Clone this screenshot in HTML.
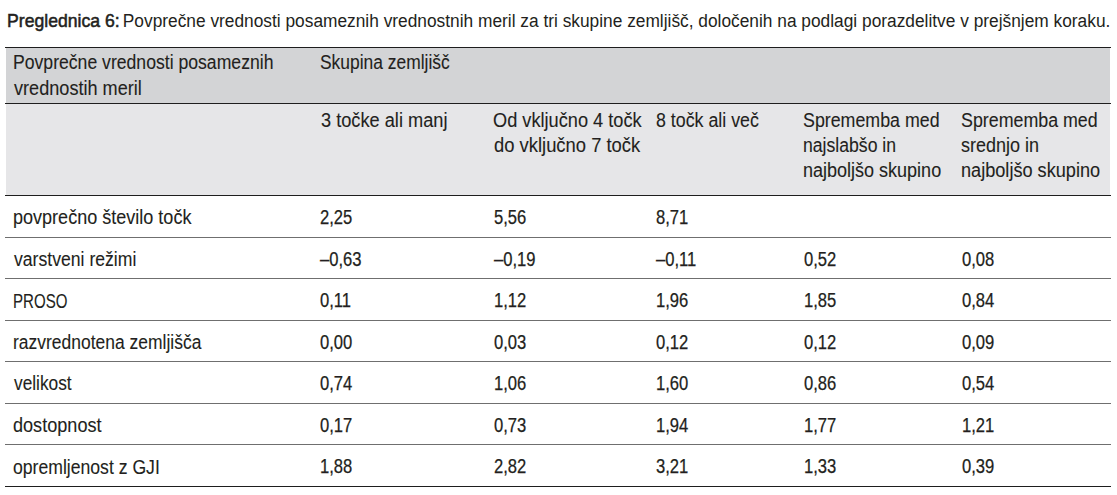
<!DOCTYPE html>
<html><head><meta charset="utf-8"><style>
html,body{margin:0;padding:0;background:#fff;}
body{width:1117px;height:495px;position:relative;overflow:hidden;font-family:"Liberation Sans",sans-serif;color:#231f20;}
.t{position:absolute;font-size:20px;-webkit-text-stroke:0.25px #231f20;line-height:22px;white-space:nowrap;transform-origin:0 0;}
.ln{position:absolute;left:5px;width:1106px;}
.bg1{position:absolute;left:6px;width:1104px;top:48px;height:55px;background:#d3d4d6;}
.bg2{position:absolute;left:6px;width:1104px;top:104px;height:91px;background:#e6e6e8;}
.title{position:absolute;font-size:18px;line-height:20px;white-space:pre;transform-origin:0 0;}
.l{font-size:19.5px;-webkit-text-stroke:0.1px #231f20;}
.tb{font-size:19px;-webkit-text-stroke:0.55px #231f20;}
</style></head><body>
<div class="bg1"></div><div class="bg2"></div>
<div class="ln" style="top:47px;height:1px;background:#1e1e1e"></div><div class="ln" style="top:103px;height:1px;background:#1e1e1e"></div><div class="ln" style="top:195px;height:1px;background:#1e1e1e"></div><div class="ln" style="top:237px;height:1px;background:#6f6f6f"></div><div class="ln" style="top:278px;height:1px;background:#6f6f6f"></div><div class="ln" style="top:320px;height:1px;background:#6f6f6f"></div><div class="ln" style="top:361px;height:1px;background:#6f6f6f"></div><div class="ln" style="top:403px;height:1px;background:#6f6f6f"></div><div class="ln" style="top:444px;height:1px;background:#6f6f6f"></div><div class="ln" style="top:486px;height:1px;background:#1e1e1e"></div>
<div class="title tb" style="top:11px;left:6.9px;transform:scaleX(0.928)">Preglednica 6:</div><div class="title" style="top:11px;left:118px;transform:scaleX(0.962)"> Povprečne vrednosti posameznih vrednostnih meril za tri skupine zemljišč, določenih na podlagi porazdelitve v prejšnjem koraku.</div>
<div class="t l" id="e0" style="left:13.28px;top:51.2px;transform:scaleX(0.9033)">Povprečne vrednosti posameznih</div><div class="t l" id="e1" style="left:13.70px;top:76.9px;transform:scaleX(0.9288)">vrednostih meril</div><div class="t l" id="e2" style="left:320.36px;top:51.2px;transform:scaleX(0.8931)">Skupina zemljišč</div><div class="t l" id="e3" style="left:320.62px;top:108.7px;transform:scaleX(0.9332)">3 točke ali manj</div><div class="t l" id="e4" style="left:493.47px;top:108.7px;transform:scaleX(0.9328)">Od vključno 4 točk</div><div class="t l" id="e5" style="left:493.64px;top:133.5px;transform:scaleX(0.9434)">do vključno 7 točk</div><div class="t l" id="e6" style="left:655.57px;top:108.7px;transform:scaleX(0.9132)">8 točk ali več</div><div class="t l" id="e7" style="left:803.24px;top:108.7px;transform:scaleX(0.9134)">Sprememba med</div><div class="t l" id="e8" style="left:803.10px;top:133.5px;transform:scaleX(0.9039)">najslabšo in</div><div class="t l" id="e9" style="left:803.21px;top:159.0px;transform:scaleX(0.9234)">najboljšo skupino</div><div class="t l" id="e10" style="left:961.24px;top:108.7px;transform:scaleX(0.9136)">Sprememba med</div><div class="t l" id="e11" style="left:961.32px;top:133.5px;transform:scaleX(0.9229)">srednjo in</div><div class="t l" id="e12" style="left:961.21px;top:159.0px;transform:scaleX(0.9300)">najboljšo skupino</div><div class="t l" id="e13" style="left:13.49px;top:206.4px;transform:scaleX(0.9248)">povprečno število točk</div><div class="t l" id="e14" style="left:13.52px;top:248.4px;transform:scaleX(0.9035)">varstveni režimi</div><div class="t l" id="e15" style="left:12.54px;top:289.5px;transform:scaleX(0.7726)">PROSO</div><div class="t l" id="e16" style="left:12.87px;top:331.3px;transform:scaleX(0.8958)">razvrednotena zemljišča</div><div class="t l" id="e17" style="left:13.88px;top:372.3px;transform:scaleX(0.8866)">velikost</div><div class="t l" id="e18" style="left:12.66px;top:414.1px;transform:scaleX(0.9277)">dostopnost</div><div class="t l" id="e19" style="left:12.69px;top:455.5px;transform:scaleX(0.9031)">opremljenost z GJI</div><div class="t" style="left:320.00px;top:205.9px;transform:scaleX(0.83)">2,25</div><div class="t" style="left:493.60px;top:205.9px;transform:scaleX(0.83)">5,56</div><div class="t" style="left:655.70px;top:205.9px;transform:scaleX(0.83)">8,71</div><div class="t" style="left:320.00px;top:247.9px;transform:scaleX(0.83)">–0,63</div><div class="t" style="left:493.60px;top:247.9px;transform:scaleX(0.83)">–0,19</div><div class="t" style="left:655.70px;top:247.9px;transform:scaleX(0.83)">–0,11</div><div class="t" style="left:804.00px;top:247.9px;transform:scaleX(0.83)">0,52</div><div class="t" style="left:961.60px;top:247.9px;transform:scaleX(0.83)">0,08</div><div class="t" style="left:320.00px;top:289.0px;transform:scaleX(0.83)">0,11</div><div class="t" style="left:493.60px;top:289.0px;transform:scaleX(0.83)">1,12</div><div class="t" style="left:655.70px;top:289.0px;transform:scaleX(0.83)">1,96</div><div class="t" style="left:804.00px;top:289.0px;transform:scaleX(0.83)">1,85</div><div class="t" style="left:961.60px;top:289.0px;transform:scaleX(0.83)">0,84</div><div class="t" style="left:320.00px;top:330.8px;transform:scaleX(0.83)">0,00</div><div class="t" style="left:493.60px;top:330.8px;transform:scaleX(0.83)">0,03</div><div class="t" style="left:655.70px;top:330.8px;transform:scaleX(0.83)">0,12</div><div class="t" style="left:804.00px;top:330.8px;transform:scaleX(0.83)">0,12</div><div class="t" style="left:961.60px;top:330.8px;transform:scaleX(0.83)">0,09</div><div class="t" style="left:320.00px;top:371.8px;transform:scaleX(0.83)">0,74</div><div class="t" style="left:493.60px;top:371.8px;transform:scaleX(0.83)">1,06</div><div class="t" style="left:655.70px;top:371.8px;transform:scaleX(0.83)">1,60</div><div class="t" style="left:804.00px;top:371.8px;transform:scaleX(0.83)">0,86</div><div class="t" style="left:961.60px;top:371.8px;transform:scaleX(0.83)">0,54</div><div class="t" style="left:320.00px;top:413.6px;transform:scaleX(0.83)">0,17</div><div class="t" style="left:493.60px;top:413.6px;transform:scaleX(0.83)">0,73</div><div class="t" style="left:655.70px;top:413.6px;transform:scaleX(0.83)">1,94</div><div class="t" style="left:804.00px;top:413.6px;transform:scaleX(0.83)">1,77</div><div class="t" style="left:961.60px;top:413.6px;transform:scaleX(0.83)">1,21</div><div class="t" style="left:320.00px;top:455.0px;transform:scaleX(0.83)">1,88</div><div class="t" style="left:493.60px;top:455.0px;transform:scaleX(0.83)">2,82</div><div class="t" style="left:655.70px;top:455.0px;transform:scaleX(0.83)">3,21</div><div class="t" style="left:804.00px;top:455.0px;transform:scaleX(0.83)">1,33</div><div class="t" style="left:961.60px;top:455.0px;transform:scaleX(0.83)">0,39</div>
</body></html>
